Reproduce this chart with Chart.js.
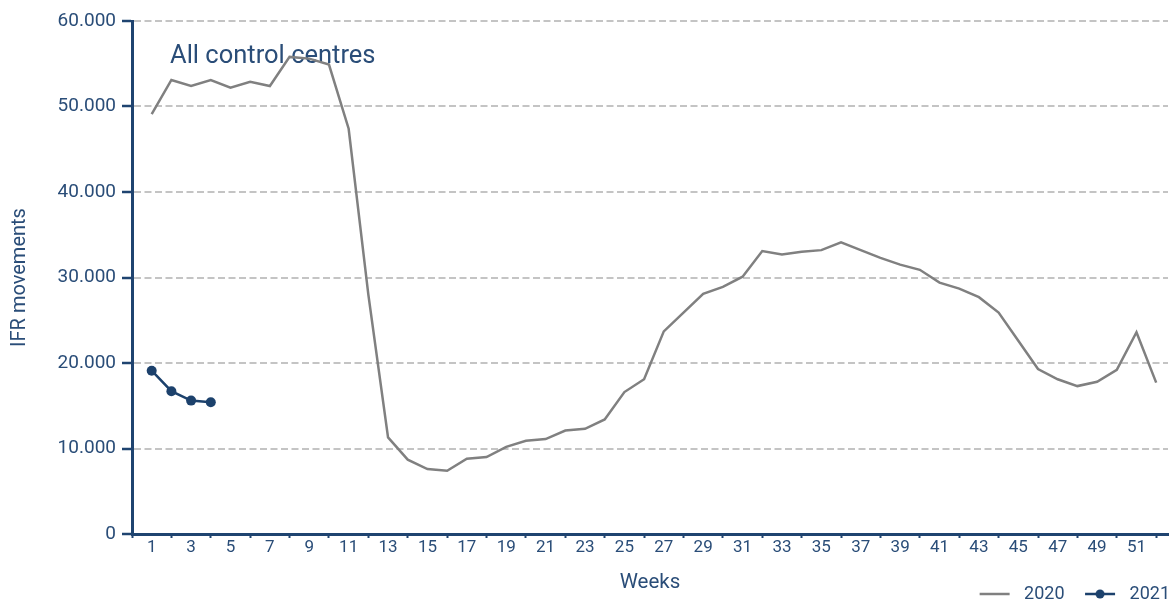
<!DOCTYPE html>
<html>
<head>
<meta charset="utf-8">
<script src="https://cdn.jsdelivr.net/npm/chart.js@4/dist/chart.umd.min.js"></script>
<style>
  html, body { margin: 0; padding: 0; background: #fff; }
  #wrap { width: 1173px; height: 602px; position: relative; }
</style>
</head>
<body>
<div id="wrap"><canvas id="ifrChart"></canvas></div>
<script>
// data
const weeks = [1, 2, 3, 4, 5, 6, 7, 8, 9, 10, 11, 12, 13, 14, 15, 16, 17, 18, 19, 20,
  21, 22, 23, 24, 25, 26, 27, 28, 29, 30, 31, 32, 33, 34, 35, 36, 37, 38, 39, 40,
  41, 42, 43, 44, 45, 46, 47, 48, 49, 50, 51, 52];
const ifr2020 = [49100, 53100, 52400, 53100, 52200, 52900, 52400, 55800, 55600, 54900,
  47400, 28000, 11300, 8700, 7600, 7400, 8800, 9000, 10200, 10900,
  11100, 12100, 12300, 13400, 16600, 18100, 23700, 25900, 28100, 28900,
  30100, 33100, 32700, 33000, 33200, 34100, 33200, 32300, 31500, 30900,
  29400, 28700, 27700, 25900, 22600, 19300, 18100, 17300, 17800, 19200,
  23600, 17700];
const ifr2021 = [19100, 16700, 15600, 15400];
const yTicks = [0, 10000, 20000, 30000, 40000, 50000, 60000];
const seriesNames = ['2020', '2021'];
const chartTitle = 'All control centres';

const axisColor = '#1f4470';
const textColor = '#2a4d78';
const greyLine = '#808080';
const navyLine = '#1c416c';
const gridGrey = '#c4c4c4';
const fontFam = 'Roboto, "Liberation Sans", sans-serif';

// legend icons: a line (and a dot for 2021)
function legendIcon(color, dot) {
  const c = document.createElement('canvas');
  c.width = 44; c.height = 12;
  const g = c.getContext('2d');
  g.strokeStyle = color; g.lineWidth = 2.5;
  g.beginPath(); g.moveTo(13, 6); g.lineTo(43, 6); g.stroke();
  if (dot) {
    g.fillStyle = color;
    g.beginPath(); g.arc(28, 6, 4.5, 0, Math.PI * 2); g.fill();
  }
  return c;
}
const icons = [legendIcon(greyLine, false), legendIcon(navyLine, true)];

const titlePlugin = {
  id: 'insideTitle',
  beforeDatasetsDraw(chart) {
    const { ctx } = chart;
    ctx.save();
    ctx.font = '25.5px ' + fontFam;
    ctx.fillStyle = textColor;
    ctx.textBaseline = 'middle';
    ctx.textAlign = 'left';
    ctx.fillText(chartTitle, 170, 57);
    ctx.restore();
  }
};

const ctx = document.getElementById('ifrChart').getContext('2d');
new Chart(ctx, {
  type: 'line',
  data: {
    datasets: [
      {
        label: seriesNames[0],
        data: weeks.map((w, i) => ({ x: w, y: ifr2020[i] })),
        borderColor: greyLine,
        borderWidth: 2.5,
        pointRadius: 0,
        tension: 0,
        fill: false
      },
      {
        label: seriesNames[1],
        data: ifr2021.map((v, i) => ({ x: weeks[i], y: v })),
        borderColor: navyLine,
        backgroundColor: navyLine,
        borderWidth: 2.5,
        pointRadius: 5,
        pointBackgroundColor: navyLine,
        pointBorderWidth: 0,
        tension: 0,
        fill: false
      }
    ]
  },
  options: {
    responsive: true,
    maintainAspectRatio: false,
    animation: false,
    layout: { padding: { top: 21, bottom: -11, left: 0, right: 0 } },
    plugins: {
      tooltip: { enabled: false },
      legend: {
        position: 'bottom',
        align: 'end',
        labels: {
          usePointStyle: true,
          pointStyleWidth: 53,
          padding: 3,
          color: textColor,
          font: { family: fontFam, size: 18 },
          generateLabels(chart) {
            const items = Chart.defaults.plugins.legend.labels.generateLabels(chart);
            items.forEach((it, i) => { it.pointStyle = icons[i]; });
            return items;
          }
        }
      }
    },
    scales: {
      x: {
        type: 'linear',
        min: 0,
        max: 52.6,
        afterFit: s => { s.height = 48; },
        border: { display: true, color: axisColor, width: 3 },
        grid: {
          display: true,
          drawOnChartArea: false,
          drawTicks: true,
          tickLength: 4,
          tickWidth: 2,
          tickColor: c => (c.tick && c.tick.value % 2 === 0) ? axisColor : 'rgba(0,0,0,0)'
        },
        ticks: {
          stepSize: 1,
          autoSkip: false,
          includeBounds: false,
          maxRotation: 0,
          padding: 0,
          color: textColor,
          font: { family: fontFam, size: 17 },
          callback: v => (Number.isInteger(v) && v % 2 === 1) ? String(v) : ''
        },
        title: {
          display: true,
          text: 'Weeks',
          color: textColor,
          font: { family: fontFam, size: 20.5 },
          padding: { top: 13, bottom: -12.8 }
        }
      },
      y: {
        min: yTicks[0],
        max: yTicks[yTicks.length - 1],
        afterFit: s => { s.width = 132; },
        border: { display: true, color: axisColor, width: 3, dash: [7, 3.5] },
        grid: {
          color: c => (c.tick && c.tick.value === 0) ? 'rgba(0,0,0,0)' : gridGrey,
          lineWidth: 2,
          tickLength: 10,
          tickWidth: 2.5,
          tickColor: axisColor,
          tickBorderDash: []
        },
        afterBuildTicks: s => { s.ticks = yTicks.map(v => ({ value: v })); },
        ticks: {
          padding: 6,
          color: textColor,
          font: { family: fontFam, size: 19 },
          callback: v => v.toLocaleString('de-DE')
        },
        title: {
          display: true,
          text: 'IFR movements',
          color: textColor,
          font: { family: fontFam, size: 20 },
          padding: { top: 8, bottom: 0 }
        }
      }
    }
  },
  plugins: [titlePlugin]
});
</script>
</body>
</html>
